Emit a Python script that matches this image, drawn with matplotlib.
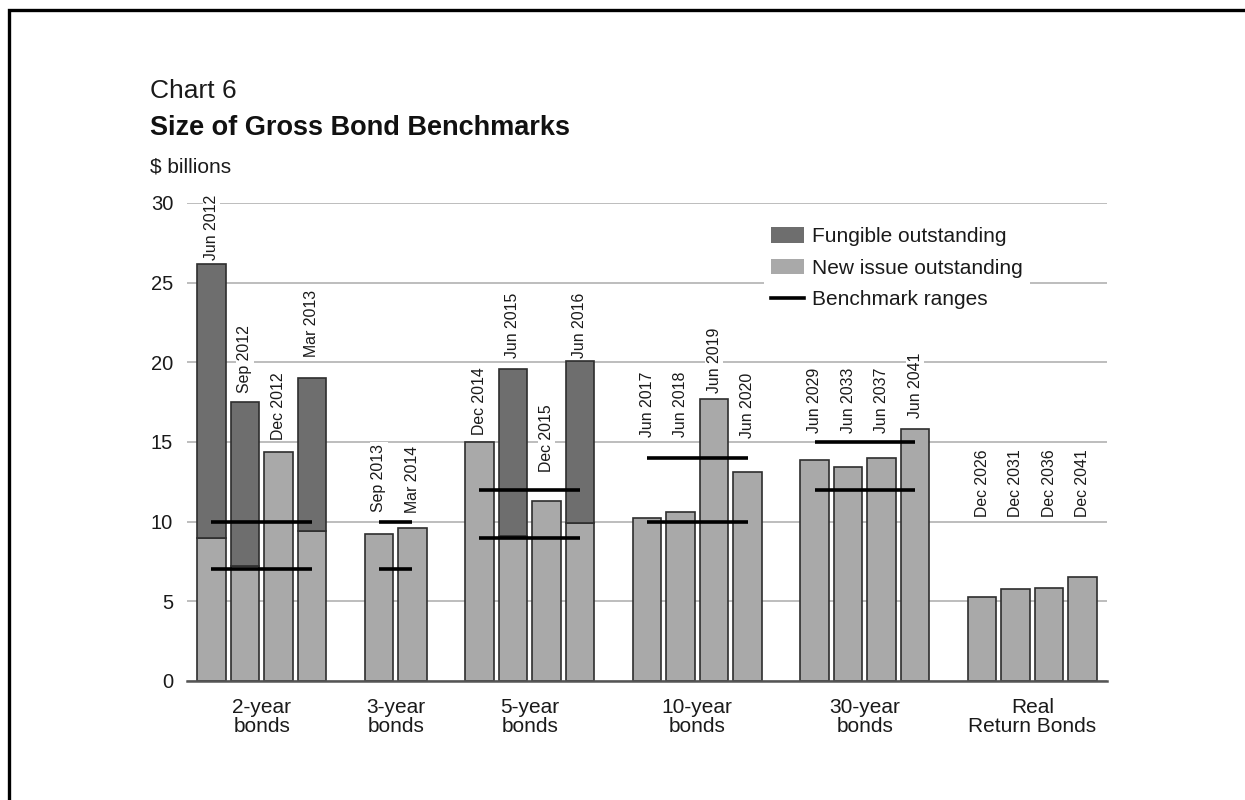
import matplotlib
matplotlib.use("Agg")
import matplotlib.pyplot as plt
from matplotlib.patches import Patch, Rectangle
from matplotlib.lines import Line2D

# ---------------- data ----------------
categories = ['2-year\nbonds', '3-year\nbonds', '5-year\nbonds',
              '10-year\nbonds', '30-year\nbonds', 'Real\nReturn Bonds']
group_sizes = [4, 2, 4, 4, 4, 4]
bond_names = ['Jun 2012', 'Sep 2012', 'Dec 2012', 'Mar 2013',
              'Sep 2013', 'Mar 2014',
              'Dec 2014', 'Jun 2015', 'Dec 2015', 'Jun 2016',
              'Jun 2017', 'Jun 2018', 'Jun 2019', 'Jun 2020',
              'Jun 2029', 'Jun 2033', 'Jun 2037', 'Jun 2041',
              'Dec 2026', 'Dec 2031', 'Dec 2036', 'Dec 2041']
new_issue = [9.0, 7.2, 14.4, 9.4,
             9.2, 9.6,
             15.0, 9.1, 11.3, 9.9,
             10.2, 10.6, 17.7, 13.1,
             13.9, 13.4, 14.0, 15.8,
             5.3, 5.8, 5.85, 6.55]
fungible = [17.15, 10.3, 0.0, 9.6,
            0.0, 0.0,
            0.0, 10.5, 0.0, 10.2,
            0.0, 0.0, 0.0, 0.0,
            0.0, 0.0, 0.0, 0.0,
            0.0, 0.0, 0.0, 0.0]
bench_low = [7, 7, 9, 10, 12, None]
bench_high = [10, 10, 12, 14, 15, None]
yticks = [0, 5, 10, 15, 20, 25, 30]

# layout: height (in $ billions) of the base of each rotated date label
label_base = [26.43, 18.08, 15.13, 20.36,
              10.63, 10.53,
              15.44, 20.26, 13.1, 20.26,
              15.34, 15.34, 18.08, 15.25,
              15.55, 15.55, 15.55, 16.49,
              10.31, 10.31, 10.31, 10.31]

# ---------------- style ----------------
W, H = 1245, 800
FONT = ['Liberation Sans', 'DejaVu Sans']
plt.rcParams['font.family'] = FONT
DARK = '#6e6e6e'
LIGHT = '#a9a9a9'
EDGE = '#2e2e2e'

fig = plt.figure(figsize=(W / 100, H / 100), dpi=100)
ax_l, ax_r, ax_b, ax_t = 187, 1107, 681, 203
ax = fig.add_axes([ax_l / W, 1 - ax_b / H, (ax_r - ax_l) / W, (ax_b - ax_t) / H])

# slot positions with one empty slot between groups
positions = []
group_centers = []
group_ends = []
s = 0
for g in group_sizes:
    slots = list(range(s, s + g))
    positions += slots
    group_centers.append((slots[0] + slots[-1]) / 2)
    group_ends.append((slots[0], slots[-1]))
    s += g + 1

bw = 0.845
ax.bar(positions, new_issue, width=bw, color=LIGHT, edgecolor=EDGE, linewidth=1.2, zorder=3)
for x, base, f in zip(positions, new_issue, fungible):
    if f > 0:
        ax.bar([x], [f], bottom=[base], width=bw, color=DARK, edgecolor=EDGE, linewidth=1.2, zorder=3)

# benchmark ranges
for (a, b), lo, hi in zip(group_ends, bench_low, bench_high):
    for v in (lo, hi):
        if v is not None:
            ax.plot([a, b], [v, v], color='black', lw=2.6, solid_capstyle='butt', zorder=4)

# date labels
for x, name, yb in zip(positions, bond_names, label_base):
    ax.text(x, yb, name, rotation=90, ha='center', va='bottom', fontsize=11.4,
            color='#1a1a1a', zorder=5,
            bbox=dict(facecolor='white', edgecolor='none', pad=1.0))

ax.set_xlim(-0.73, 26.73)
ax.set_ylim(0, 30)
ax.set_yticks(yticks)
ax.set_yticklabels([str(v) for v in yticks], fontsize=14.5, color='#1a1a1a')
ax.set_xticks(group_centers)
ax.set_xticklabels(categories, fontsize=15, color='#1a1a1a', linespacing=1.0)
ax.tick_params(axis='y', length=0, pad=10)
ax.tick_params(axis='x', length=0, pad=12)
ax.yaxis.grid(True, color='#b8b8b8', lw=1.3, zorder=0)
ax.set_axisbelow(True)
for sp in ['left', 'right', 'top']:
    ax.spines[sp].set_visible(False)
ax.spines['bottom'].set_color('#555555')
ax.spines['bottom'].set_linewidth(1.8)
ax.spines['bottom'].set_zorder(6)

# legend
handles = [Patch(facecolor=DARK, edgecolor='none'),
           Patch(facecolor=LIGHT, edgecolor='none'),
           Line2D([0], [0], color='black', lw=2.6)]
labels = ['Fungible outstanding', 'New issue outstanding', 'Benchmark ranges']
leg = ax.legend(handles, labels, loc='upper left',
                bbox_to_anchor=(764 / W, 1 - 220 / H), bbox_transform=fig.transFigure,
                frameon=True, facecolor='white', edgecolor='none', framealpha=1,
                borderpad=0.35, borderaxespad=0, handlelength=1.55, handleheight=0.75,
                handletextpad=0.4, labelspacing=0.6, fontsize=15)
leg.set_zorder(7)
for t in leg.get_texts():
    t.set_color('#1a1a1a')

# titles
fig.text(150 / W, 1 - 98 / H, 'Chart 6', fontsize=19, ha='left', va='baseline', color='#1a1a1a')
fig.text(150 / W, 1 - 135 / H, 'Size of Gross Bond Benchmarks', fontsize=19.5,
         fontweight='bold', ha='left', va='baseline', color='#111111')
fig.text(150 / W, 1 - 173 / H, '$ billions', fontsize=15, ha='left', va='baseline', color='#1a1a1a')

# frame around the whole picture
fig.patches.append(Rectangle((8.5 / W, -0.05), 1.2, 1 - 9.5 / H + 0.05, transform=fig.transFigure,
                             fill=False, edgecolor='black', lw=2.4))

fig.savefig('out.png', dpi=100, facecolor='white')
